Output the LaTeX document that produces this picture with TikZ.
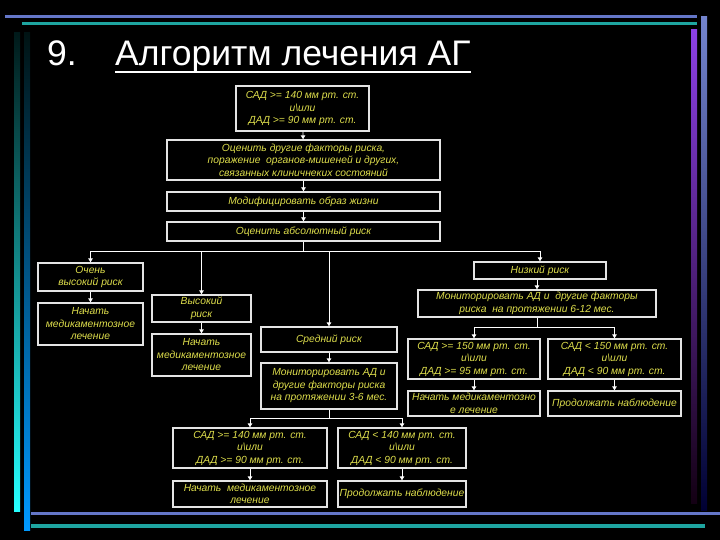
\documentclass[tikz,border=0pt]{standalone}
\usepackage{fontspec}
\setmainfont{Liberation Sans}
\usetikzlibrary{arrows.meta}
\definecolor{txt}{RGB}{222,222,76}
\definecolor{bord}{RGB}{228,228,228}
\definecolor{lblue}{RGB}{100,118,200}
\definecolor{lteal}{RGB}{30,165,160}
\definecolor{purp}{RGB}{140,64,230}
\begin{document}
\begin{tikzpicture}[x=1pt,y=-1pt,
  bx/.style={draw=bord, line width=1.3pt, fill=black, text=txt,
    font=\fontsize{10.3}{12.5}\selectfont\itshape, align=center, inner sep=0pt},
  arr/.style={draw=white, line width=0.8pt, -{Triangle[width=4.5pt,length=4pt]}},
  ln/.style={draw=white, line width=0.8pt},
  ttl/.style={text=white, font=\fontsize{35.5}{40}\selectfont, inner sep=0pt, anchor=base west}]
\fill[black] (0,0) rectangle (720,540);
\useasboundingbox (0,0) rectangle (720,540);
% decorative frame
\fill[lblue] (5,15) rectangle (697,18.5);
\fill[lteal] (22,22) rectangle (697,25);
\shade[top color=black!90!cyan, bottom color=cyan!85!white] (14,33) rectangle (20,511);
\shade[top color=black!85!teal, bottom color=cyan!60!blue] (24,33) rectangle (30,530);
\fill[lblue] (31,511.5) rectangle (720,515);
\fill[lteal] (31,524) rectangle (705,527.5);
\shade[top color=purp, bottom color=black!85!violet] (691,30) rectangle (697,503);
\shade[top color=lblue!90!white, bottom color=black!80!blue] (701,17) rectangle (707,510);
% title
\node[ttl] (t9) at (47,66) {9.};
\node[ttl] (tt) at (115,66) {Алгоритм лечения АГ};
\draw[white, line width=2pt] ([yshift=-6pt]tt.base west) -- ([yshift=-6pt]tt.base east);
% boxes
\node[bx, minimum width=133pt, minimum height=45pt] (s1) at (302.5,108.5) {САД >= 140 мм рт. ст.\\и\textbackslash или\\ДАД >= 90 мм рт. ст.};
\node[bx, minimum width=273pt, minimum height=40pt] (s2) at (303.5,160) {Оценить другие факторы риска,\\поражение\ \ органов-мишеней и других,\\связанных клиничнеких состояний};
\node[bx, minimum width=273pt, minimum height=19pt] (s3) at (303.5,201.5) {Модифицировать образ жизни};
\node[bx, minimum width=273pt, minimum height=19pt] (s4) at (303.5,231.5) {Оценить абсолютный риск};
\node[bx, minimum width=105pt, minimum height=28pt] (vh) at (90.5,277) {Очень\\высокий риск};
\node[bx, minimum width=105pt, minimum height=42pt] (vhm) at (90.5,324) {Начать\\медикаментозное\\лечение};
\node[bx, minimum width=99pt, minimum height=27pt] (hi) at (201.5,308.5) {Высокий\\риск};
\node[bx, minimum width=99pt, minimum height=42pt] (him) at (201.5,355) {Начать\\медикаментозное\\лечение};
\node[bx, minimum width=136pt, minimum height=25pt] (md) at (329,339.5) {Средний риск};
\node[bx, minimum width=136pt, minimum height=46pt] (mdm) at (329,386) {Мониторировать АД и\\другие факторы риска\\на протяжении 3-6 мес.};
\node[bx, minimum width=132pt, minimum height=17pt] (lo) at (540,270.5) {Низкий риск};
\node[bx, minimum width=238pt, minimum height=27pt] (lom) at (537,303.5) {Мониторировать АД и\ \ другие факторы\\риска\ \ на протяжении 6-12 мес.};
\node[bx, minimum width=132pt, minimum height=40pt] (r1) at (474,359) {САД >= 150 мм рт. ст.\\и\textbackslash или\\ДАД >= 95 мм рт. ст.};
\node[bx, minimum width=133pt, minimum height=40pt] (r2) at (614.5,359) {САД < 150 мм рт. ст.\\и\textbackslash или\\ДАД < 90 мм рт. ст.};
\node[bx, minimum width=132pt, minimum height=25pt] (r1b) at (474,403.5) {Начать медикаментозно\\е лечение};
\node[bx, minimum width=133pt, minimum height=25pt] (r2b) at (614.5,403.5) {Продолжать наблюдение};
\node[bx, minimum width=154pt, minimum height=40pt] (b1) at (250,448) {САД >= 140 мм рт. ст.\\и\textbackslash или\\ДАД >= 90 мм рт. ст.};
\node[bx, minimum width=128pt, minimum height=40pt] (b2) at (402,448) {САД < 140 мм рт. ст.\\и\textbackslash или\\ДАД < 90 мм рт. ст.};
\node[bx, minimum width=154pt, minimum height=26pt] (b1b) at (250,494) {Начать\ \ медикаментозное\\лечение};
\node[bx, minimum width=128pt, minimum height=26pt] (b2b) at (402,494) {Продолжать наблюдение};
% junctions
\coordinate (j1) at (303.5,251);
\coordinate (j2) at (537,327);
\coordinate (j3) at (329,418);
% connectors
\draw[arr] (s1) -- (s2);
\draw[arr] (s2) -- (s3);
\draw[arr] (s3) -- (s4);
\draw[ln] (s4.south) -- (j1);
\draw[arr] (j1) -| (vh.north);
\draw[arr] (j1) -| (lo.north);
\draw[arr] (hi.north |- j1) -- (hi.north);
\draw[arr] (md.north |- j1) -- (md.north);
\draw[arr] (vh) -- (vhm);
\draw[arr] (hi) -- (him);
\draw[arr] (md) -- (mdm);
\draw[arr] (lo.south -| lom.north) -- (lom.north);
\draw[ln] (lom.south) -- (j2);
\draw[arr] (j2) -| (r1.north);
\draw[arr] (j2) -| (r2.north);
\draw[arr] (r1) -- (r1b);
\draw[arr] (r2) -- (r2b);
\draw[ln] (mdm.south) -- (j3);
\draw[arr] (j3) -| (b1.north);
\draw[arr] (j3) -| (b2.north);
\draw[arr] (b1) -- (b1b);
\draw[arr] (b2) -- (b2b);
\end{tikzpicture}
\end{document}
